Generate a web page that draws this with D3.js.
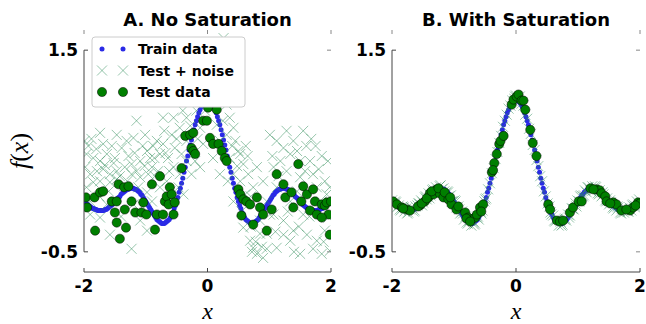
<!DOCTYPE html>
<html>
<head>
<meta charset="utf-8">
<script src="https://cdn.jsdelivr.net/npm/d3@7"></script>
<style>
  body { margin: 0; background: #fff; }
  svg { display: block; }
  text { font-family: "DejaVu Sans", sans-serif; }
</style>
</head>
<body>
<div id="chart"></div>
<script>
// train points (same set in both panels)
const trainX = [-2.00,-1.96,-1.92,-1.88,-1.84,-1.80,-1.76,-1.72,-1.68,-1.64,-1.60,-1.56,-1.52,-1.48,-1.44,-1.40,-1.36,-1.32,-1.28,-1.24,
  -1.20,-1.16,-1.12,-1.08,-1.04,-1.00,-0.96,-0.92,-0.88,-0.84,-0.80,-0.76,-0.72,-0.68,-0.64,-0.60,-0.56,-0.52,-0.48,-0.44,
  -0.40,-0.36,-0.32,-0.28,-0.24,-0.20,-0.16,-0.12,-0.08,-0.04,0.00,0.04,0.08,0.12,0.16,0.20,0.24,0.28,0.32,0.36,
  0.40,0.44,0.48,0.52,0.56,0.60,0.64,0.68,0.72,0.76,0.80,0.84,0.88,0.92,0.96,1.00,1.04,1.08,1.12,1.16,
  1.20,1.24,1.28,1.32,1.36,1.40,1.44,1.48,1.52,1.56,1.60,1.64,1.68,1.72,1.76,1.80,1.84,1.88,1.92,1.96,2.00];
const trainY = [0.00,-0.02,-0.04,-0.06,-0.07,-0.08,-0.09,-0.09,-0.09,-0.08,-0.06,-0.04,-0.01,0.01,0.04,0.07,0.09,0.11,0.12,0.13,
  0.13,0.12,0.10,0.07,0.04,0.00,-0.04,-0.08,-0.12,-0.16,-0.19,-0.21,-0.22,-0.21,-0.19,-0.16,-0.11,-0.04,0.04,0.13,
  0.23,0.34,0.45,0.56,0.66,0.76,0.84,0.91,0.96,0.99,1.00,0.99,0.96,0.91,0.84,0.76,0.66,0.56,0.45,0.34,
  0.23,0.13,0.04,-0.04,-0.11,-0.16,-0.19,-0.21,-0.22,-0.21,-0.19,-0.16,-0.12,-0.08,-0.04,0.00,0.04,0.07,0.10,0.12,
  0.13,0.13,0.12,0.11,0.09,0.07,0.04,0.01,-0.01,-0.04,-0.06,-0.08,-0.09,-0.09,-0.09,-0.08,-0.07,-0.06,-0.04,-0.02,0.00];
const trainMidX = [-1.98,-1.94,-1.90,-1.86,-1.82,-1.78,-1.74,-1.70,-1.66,-1.62,-1.58,-1.54,-1.50,-1.46,-1.42,-1.38,-1.34,-1.30,-1.26,-1.22,
  -1.18,-1.14,-1.10,-1.06,-1.02,-0.98,-0.94,-0.90,-0.86,-0.82,-0.78,-0.74,-0.70,-0.66,-0.62,-0.58,-0.54,-0.50,-0.46,-0.42,
  -0.38,-0.34,-0.30,-0.26,-0.22,-0.18,-0.14,-0.10,-0.06,-0.02,0.02,0.06,0.10,0.14,0.18,0.22,0.26,0.30,0.34,0.38,
  0.42,0.46,0.50,0.54,0.58,0.62,0.66,0.70,0.74,0.78,0.82,0.86,0.90,0.94,0.98,1.02,1.06,1.10,1.14,1.18,
  1.22,1.26,1.30,1.34,1.38,1.42,1.46,1.50,1.54,1.58,1.62,1.66,1.70,1.74,1.78,1.82,1.86,1.90,1.94,1.98];
const trainMidY = [-0.01,-0.03,-0.05,-0.07,-0.08,-0.09,-0.09,-0.09,-0.08,-0.07,-0.05,-0.03,0.00,0.03,0.05,0.08,0.10,0.12,0.13,0.13,
  0.12,0.11,0.09,0.06,0.02,-0.02,-0.06,-0.10,-0.14,-0.18,-0.20,-0.22,-0.22,-0.20,-0.18,-0.13,-0.07,0.00,0.09,0.18,
  0.29,0.40,0.51,0.61,0.71,0.80,0.88,0.94,0.98,1.00,1.00,0.98,0.94,0.88,0.80,0.71,0.61,0.51,0.40,0.29,
  0.18,0.09,0.00,-0.07,-0.13,-0.18,-0.20,-0.22,-0.22,-0.20,-0.18,-0.14,-0.10,-0.06,-0.02,0.02,0.06,0.09,0.11,0.12,
  0.13,0.13,0.12,0.10,0.08,0.05,0.03,0.00,-0.03,-0.05,-0.07,-0.08,-0.09,-0.09,-0.09,-0.08,-0.07,-0.05,-0.03,-0.01];

// panel A: test + noise
const noiseAX = [-1.74,-1.47,-1.69,-1.96,-1.85,-1.74,-1.63,-1.50,-1.39,-1.31,-1.20,-1.15,-1.90,-1.79,-1.69,-1.58,-1.47,-1.34,-1.23,-1.09,
  -0.98,-0.93,-1.96,-1.85,-1.74,-1.58,-1.47,-1.23,-1.09,-0.96,-1.12,-0.98,-1.90,-1.74,-1.63,-1.20,-1.09,-0.98,-1.23,-0.90,
  -1.58,-1.90,-1.01,-0.86,-0.77,-0.90,-1.98,-1.93,-1.80,-1.55,-1.28,-1.05,-1.60,-1.35,-1.15,-0.85,-0.60,
  -0.72,-0.64,-0.55,-0.45,-0.53,-0.42,-0.34,-0.47,-0.39,-0.66,-0.77,-0.55,-0.45,-0.34,-0.23,-0.12,-0.18,-0.12,-0.07,-0.20,
  -0.12,-0.34,-0.26,-0.58,-0.82,-0.72,-0.42,-0.34,-0.07,-0.01,0.04,
  0.09,0.18,0.23,0.31,0.36,0.42,0.31,0.45,0.50,0.36,0.58,0.42,0.53,0.66,0.74,0.61,0.80,0.90,0.26,0.15,
  0.09,0.20,0.42,0.58,0.69,0.80,0.74,0.90,0.96,0.85,0.96,1.01,0.53,0.25,0.40,0.65,0.70,0.55,0.72,0.78,
  1.01,1.12,1.23,1.34,1.45,1.55,1.39,1.28,1.18,1.50,1.66,1.85,1.07,1.28,1.50,1.71,1.90,1.98,1.12,1.34,
  1.55,1.77,1.93,1.07,1.23,1.39,1.61,1.77,1.90,1.98,1.71,1.50,1.34,1.12,0.96,0.85,1.23,1.85,1.96,1.60,
  1.75,1.45,1.65,1.85,1.40,
  -1.99,-1.88,-1.66,-1.52,-1.42,-1.30,-1.18,-1.02,-0.88,-0.80,-0.68,-0.62,-0.50,-0.40,-0.28,-0.16,-0.04,0.12,0.20,0.33,
  0.48,0.62,0.70,0.88,1.05,1.15,1.30,1.48,1.58,1.68,1.80,1.95,1.88,1.10,-1.75,-1.40,-1.05,-0.70];
const noiseAY = [0.68,0.66,0.57,0.47,0.43,0.40,0.47,0.43,0.53,0.60,0.63,0.80,0.27,0.30,0.32,0.27,0.30,0.34,0.37,0.40,
  0.50,0.43,0.14,0.19,0.20,0.19,0.22,0.27,0.24,0.27,0.14,0.09,-0.13,-0.16,-0.03,-0.03,-0.19,-0.29,-0.47,0.00,
  -0.33,0.00,0.66,0.43,0.47,0.34,0.34,0.55,0.52,0.55,0.45,0.55,0.10,0.15,0.30,0.25,0.10,
  0.57,0.43,0.34,0.27,0.53,0.47,0.40,0.14,0.07,0.20,0.14,0.83,0.73,0.83,1.00,1.03,0.90,0.73,0.57,0.40,
  0.34,0.60,0.27,0.66,0.60,0.83,1.03,1.16,1.16,1.39,1.19,
  1.33,1.13,1.03,0.96,0.83,0.73,0.66,0.60,0.50,0.43,0.37,0.27,0.20,0.27,0.14,0.07,0.34,0.20,1.62,0.76,
  0.43,0.27,0.00,-0.26,-0.39,-0.52,-0.46,-0.56,-0.47,-0.32,0.00,-0.13,0.47,0.80,0.55,0.45,0.05,-0.10,-0.50,-0.40,
  0.66,0.60,0.53,0.47,0.50,0.70,0.60,0.70,0.40,0.40,0.40,0.45,0.34,0.30,0.24,0.27,0.20,0.14,0.14,0.00,
  -0.13,0.14,0.07,-0.13,-0.19,-0.29,-0.33,-0.39,-0.29,-0.49,-0.47,-0.52,-0.39,-0.46,-0.32,-0.19,-0.33,-0.52,-0.16,0.55,
  0.55,0.10,-0.15,0.00,-0.50,
  0.60,0.62,0.36,0.38,0.25,0.20,0.48,0.35,0.55,0.30,0.48,0.30,0.62,0.90,0.75,0.62,0.90,1.00,0.60,0.20,
  0.35,0.55,-0.25,-0.45,0.45,0.25,-0.10,-0.25,0.30,0.62,0.32,0.40,-0.40,-0.30,0.05,-0.15,-0.05,0.70];

// panel A: test data
const testAX = [-1.97,-1.95,-1.82,-1.83,-1.74,-1.69,-1.55,-1.47,-1.50,-1.47,-1.42,-1.44,-1.35,-1.34,-1.32,-1.28,-1.23,-1.17,-1.07,-1.04,
  -0.99,-0.90,-0.85,-0.82,-0.77,-0.72,-0.69,-0.66,-0.63,-0.61,-0.58,-0.53,-0.55,-0.42,-0.36,-0.28,-0.23,-0.26,-0.23,-0.20,
  -0.07,-0.01,0.01,0.15,0.04,0.09,0.18,0.23,0.28,0.31,0.50,0.53,0.58,0.63,0.69,0.55,0.74,0.80,0.85,0.90,
  0.96,1.04,1.12,1.23,1.26,1.36,1.39,1.47,1.52,1.55,1.61,1.66,1.71,1.74,1.77,1.85,1.90,1.96,1.98,1.93,1.85,2.00];
const testAY = [0.04,-0.06,-0.29,0.04,0.09,0.10,0.00,0.00,-0.11,-0.21,-0.37,0.17,0.14,-0.08,-0.26,0.15,0.00,-0.11,-0.11,-0.01,
  -0.13,0.17,-0.28,-0.13,0.25,-0.13,0.00,0.05,-0.03,0.14,0.07,-0.01,-0.13,0.33,0.65,0.66,0.68,0.53,0.50,0.47,
  0.80,0.80,0.93,0.91,0.63,0.57,0.57,0.50,0.43,0.40,0.12,0.07,0.02,0.00,-0.03,-0.14,-0.23,0.04,-0.06,-0.13,
  -0.29,-0.08,0.27,0.17,0.04,0.09,-0.06,0.37,0.00,0.15,0.07,-0.09,0.12,0.00,-0.13,-0.03,-0.04,-0.13,-0.33,-0.01,-0.16,0.00];

// panel B: test + noise
const noiseBX = [-2.00,-1.97,-1.95,-1.92,-1.89,-1.86,-1.83,-1.80,-1.77,-1.74,-1.71,-1.68,-1.65,-1.62,-1.59,-1.56,-1.53,-1.50,-1.47,-1.44,
  -1.41,-1.38,-1.35,-1.32,-1.29,-1.26,-1.23,-1.20,-1.17,-1.14,-1.11,-1.08,-1.05,-1.02,-0.99,-0.96,-0.93,-0.90,-0.87,-0.84,
  -0.81,-0.78,-0.75,-0.72,-0.69,-0.66,-0.63,-0.60,-0.57,-0.54,-0.51,-0.48,-0.45,-0.42,-0.39,-0.36,-0.33,-0.30,-0.27,-0.24,
  -0.21,-0.18,-0.15,-0.12,-0.09,-0.06,-0.03,0.00,0.03,0.06,0.09,0.12,0.15,0.18,0.21,0.24,0.27,0.30,0.33,0.36,
  0.39,0.42,0.45,0.48,0.51,0.54,0.57,0.60,0.63,0.66,0.69,0.72,0.75,0.78,0.81,0.84,0.87,0.90,0.93,0.96,
  0.99,1.02,1.05,1.08,1.11,1.14,1.17,1.20,1.23,1.26,1.29,1.32,1.35,1.38,1.41,1.44,1.47,1.50,1.53,1.56,
  1.59,1.62,1.65,1.68,1.71,1.74,1.77,1.80,1.83,1.86,1.89,1.92,1.95,1.98,
  -1.985,-1.935,-1.875,-1.815,-1.755,-1.695,-1.635,-1.575,-1.515,-1.455,-1.395,-1.335,-1.275,-1.215,-1.155,-1.095,-1.035,-0.975,-0.915,-0.855,
  -0.795,-0.735,-0.675,-0.615,-0.555,-0.495,-0.015,0.015,0.555,0.615,0.675,0.735,0.795,0.855,0.915,0.975,1.035,1.095,1.155,1.215,
  1.275,1.335,1.395,1.455,1.515,1.575,1.635,1.695,1.755,1.815,1.875,1.935,1.985];
const noiseBY = [0.01,-0.03,0.00,-0.06,-0.04,-0.09,-0.05,-0.10,-0.07,-0.11,-0.08,-0.06,-0.10,-0.05,-0.04,-0.02,0.01,-0.01,0.04,0.02,
  0.08,0.06,0.11,0.09,0.14,0.11,0.15,0.12,0.13,0.08,0.10,0.05,0.06,0.00,0.01,-0.06,-0.05,-0.12,-0.10,-0.18,
  -0.15,-0.22,-0.19,-0.24,-0.20,-0.22,-0.16,-0.18,-0.10,-0.09,0.00,0.03,0.12,0.18,0.28,0.33,0.42,0.49,0.58,0.65,
  0.74,0.80,0.86,0.92,0.95,1.00,1.02,1.05,1.01,1.04,0.97,0.95,0.86,0.82,0.72,0.67,0.56,0.51,0.41,0.35,
  0.25,0.20,0.10,0.05,-0.02,-0.05,-0.13,-0.14,-0.20,-0.18,-0.24,-0.20,-0.23,-0.18,-0.19,-0.13,-0.14,-0.07,-0.08,-0.02,
  0.01,0.00,0.06,0.05,0.11,0.09,0.14,0.11,0.15,0.11,0.14,0.08,0.11,0.05,0.07,0.01,0.03,-0.03,-0.01,-0.06,
  -0.04,-0.09,-0.06,-0.11,-0.07,-0.11,-0.07,-0.10,-0.06,-0.09,-0.03,-0.06,0.00,-0.03,
  -0.03,-0.01,-0.08,-0.06,-0.12,-0.06,-0.09,-0.02,-0.04,0.05,0.03,0.12,0.10,0.16,0.10,0.09,0.00,0.00,-0.08,-0.12,
  -0.21,-0.18,-0.23,-0.15,-0.12,0.02,1.04,0.98,-0.11,-0.19,-0.17,-0.24,-0.17,-0.16,-0.07,-0.05,0.05,0.06,0.14,0.10,
  0.15,0.07,0.09,0.00,0.01,-0.07,-0.05,-0.12,-0.07,-0.10,-0.04,-0.05,0.02];

// panel B: test data
const testBX = [-1.98,-1.92,-1.84,-1.76,-1.71,-1.55,-1.47,-1.41,-1.39,-1.33,-1.28,-1.23,-1.17,-1.09,-1.04,-0.96,-0.82,-0.77,-0.72,-0.66,
  -0.63,-0.58,-0.53,-0.39,-0.35,-0.31,-0.27,-0.25,-0.20,-0.07,-0.04,0.01,0.04,0.09,0.12,0.15,0.23,0.27,0.33,0.52,
  0.55,0.66,0.71,0.76,0.87,0.92,1.01,1.06,1.30,1.35,1.38,1.44,1.46,1.57,1.62,1.70,1.84,1.89,1.97,2.00,
  -1.82,-1.58,-1.52,-1.44,-1.36,-1.25,-1.15,-1.06,-0.93,-0.80,-0.74,-0.56,-0.37,1.20,1.25,1.52,1.78,1.93];
const testBY = [0.00,-0.03,-0.06,-0.08,-0.09,-0.04,0.00,0.04,0.08,0.07,0.12,0.08,0.04,0.02,-0.03,-0.08,-0.11,-0.16,-0.18,-0.16,
  -0.13,-0.06,-0.03,0.29,0.38,0.47,0.57,0.60,0.65,0.96,1.01,1.04,1.06,1.00,1.00,0.91,0.71,0.58,0.45,-0.03,
  -0.08,-0.19,-0.20,-0.19,-0.11,-0.06,0.00,0.00,0.12,0.11,0.08,0.05,0.00,-0.01,-0.03,-0.09,-0.09,-0.06,-0.01,-0.02,
  -0.07,-0.05,-0.02,0.03,0.10,0.13,0.09,0.04,-0.05,-0.17,-0.20,-0.10,0.31,0.13,0.12,-0.02,-0.08,-0.04];

const titles = ['A. No Saturation', 'B. With Saturation'];
const xTicks = [-2, 0, 2];
const yTicks = [1.5, -0.5];
const xDomain = [-2, 2];
const yDomain = [-0.7, 1.7];
const legendLabels = ['Train data', 'Test + noise', 'Test data'];

const width = 646;
const height = 324;
const plotTop = 30;
const plotBottom = 272;

const trainColor = '#2a2ae6';
const crossColor = '#2e8b57';
const circleColor = '#007f00';
const spineColor = '#444';

const svg = d3.select('#chart')
  .append('svg')
  .attr('width', width)
  .attr('height', height);

const crossPath = 'M-5,-5L5,5M-5,5L5,-5';

const panels = [
  { left: 84, right: 331, title: titles[0], noiseX: noiseAX, noiseY: noiseAY, testX: testAX, testY: testAY, legend: true },
  { left: 392, right: 640, title: titles[1], noiseX: noiseBX, noiseY: noiseBY, testX: testBX, testY: testBY, legend: false }
];

const trainPts = d3.zip(trainX, trainY).concat(d3.zip(trainMidX, trainMidY));

panels.forEach((p, pi) => {
  const x = d3.scaleLinear().domain(xDomain).range([p.left, p.right]);
  const y = d3.scaleLinear().domain(yDomain).range([plotBottom, plotTop]);

  const g = svg.append('g');

  g.append('clipPath')
    .attr('id', `clip-${pi}`)
    .append('rect')
    .attr('x', p.left)
    .attr('y', plotTop)
    .attr('width', p.right - p.left)
    .attr('height', plotBottom - plotTop);

  const plot = g.append('g').attr('clip-path', `url(#clip-${pi})`);

  plot.selectAll('.train')
    .data(trainPts)
    .enter()
    .append('circle')
    .attr('cx', d => x(d[0]))
    .attr('cy', d => y(d[1]))
    .attr('r', 2.5)
    .attr('fill', trainColor);

  plot.selectAll('.noise')
    .data(d3.zip(p.noiseX, p.noiseY))
    .enter()
    .append('path')
    .attr('d', crossPath)
    .attr('transform', d => `translate(${x(d[0])},${y(d[1])})`)
    .attr('stroke', crossColor)
    .attr('stroke-opacity', 0.5)
    .attr('stroke-width', 1)
    .attr('fill', 'none');

  plot.selectAll('.test')
    .data(d3.zip(p.testX, p.testY))
    .enter()
    .append('circle')
    .attr('cx', d => x(d[0]))
    .attr('cy', d => y(d[1]))
    .attr('r', 4.6)
    .attr('fill', circleColor)
    .attr('stroke', '#000')
    .attr('stroke-width', 0.5);

  // spines, bounded to the tick range
  g.append('line')
    .attr('x1', p.left).attr('x2', p.left)
    .attr('y1', y(yTicks[0])).attr('y2', y(yTicks[1]))
    .attr('stroke', spineColor);
  g.append('line')
    .attr('x1', x(xTicks[0])).attr('x2', x(xTicks[2]))
    .attr('y1', plotBottom).attr('y2', plotBottom)
    .attr('stroke', spineColor);

  // ticks on all four sides, pointing inward
  xTicks.forEach(t => {
    g.append('line').attr('x1', x(t)).attr('x2', x(t)).attr('y1', plotBottom).attr('y2', plotBottom - 4).attr('stroke', spineColor);
    g.append('line').attr('x1', x(t)).attr('x2', x(t)).attr('y1', plotTop).attr('y2', plotTop + 4).attr('stroke', '#888');
    g.append('text')
      .attr('x', x(t))
      .attr('y', plotBottom + 20)
      .attr('text-anchor', 'middle')
      .style('font-size', '17px')
      .style('font-weight', 'bold')
      .text(t);
  });
  yTicks.forEach(t => {
    g.append('line').attr('x1', p.left).attr('x2', p.left + 4).attr('y1', y(t)).attr('y2', y(t)).attr('stroke', spineColor);
    g.append('line').attr('x1', p.right).attr('x2', p.right - 4).attr('y1', y(t)).attr('y2', y(t)).attr('stroke', '#888');
    g.append('text')
      .attr('x', p.left - 6)
      .attr('y', y(t) + 6)
      .attr('text-anchor', 'end')
      .style('font-size', '17px')
      .style('font-weight', 'bold')
      .text(t);
  });

  g.append('text')
    .attr('x', (p.left + p.right) / 2)
    .attr('y', 26)
    .attr('text-anchor', 'middle')
    .style('font-size', '18px')
    .style('font-weight', 'bold')
    .text(p.title);

  g.append('text')
    .attr('x', (p.left + p.right) / 2)
    .attr('y', 319)
    .attr('text-anchor', 'middle')
    .style('font-family', '"Liberation Serif", serif')
    .style('font-style', 'italic')
    .style('font-size', '24px')
    .text('x');

  if (p.legend) {
    const lg = g.append('g').attr('transform', 'translate(92,37)');
    lg.append('rect')
      .attr('width', 153)
      .attr('height', 70)
      .attr('rx', 3)
      .attr('fill', '#fff')
      .attr('stroke', '#ccc');
    legendLabels.forEach((label, i) => {
      const row = lg.append('g').attr('transform', `translate(0,${12 + i * 21.5})`);
      [10, 31].forEach(mx => {
        if (i === 0) {
          row.append('circle').attr('cx', mx).attr('cy', 0).attr('r', 2.5).attr('fill', trainColor);
        } else if (i === 1) {
          row.append('path').attr('d', crossPath).attr('transform', `translate(${mx},0)`)
            .attr('stroke', crossColor).attr('stroke-opacity', 0.5).attr('fill', 'none');
        } else {
          row.append('circle').attr('cx', mx).attr('cy', 0).attr('r', 4.6)
            .attr('fill', circleColor).attr('stroke', '#000').attr('stroke-width', 0.5);
        }
      });
      row.append('text')
        .attr('x', 46)
        .attr('y', 5)
        .style('font-size', '14px')
        .style('font-weight', 'bold')
        .text(label);
    });
  }
});

// y label on the left panel
const yLab = svg.append('text')
  .attr('transform', 'translate(28,151) rotate(-90)')
  .attr('text-anchor', 'middle')
  .style('font-family', '"Liberation Serif", serif')
  .style('font-size', '26px');
yLab.append('tspan').style('font-style', 'italic').text('f');
yLab.append('tspan').text('(');
yLab.append('tspan').style('font-style', 'italic').text('x');
yLab.append('tspan').text(')');
</script>
</body>
</html>
